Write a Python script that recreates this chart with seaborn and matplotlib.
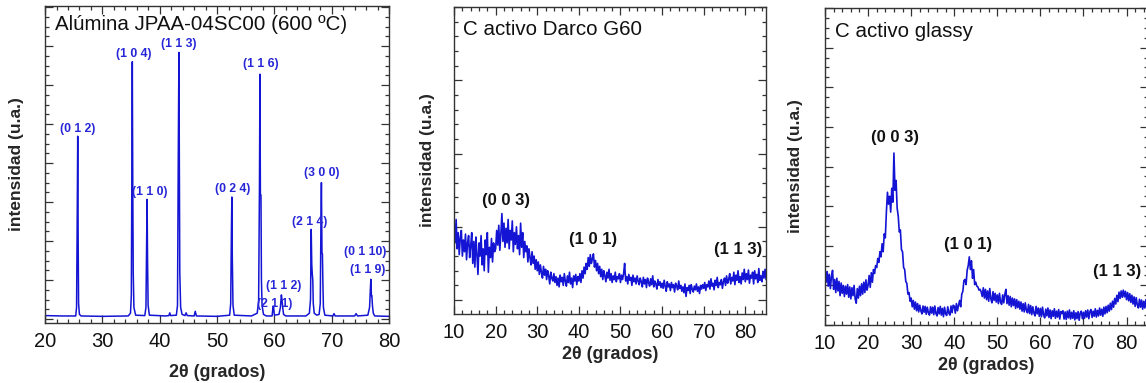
import matplotlib
matplotlib.use("Agg")
import matplotlib.pyplot as plt
from matplotlib.ticker import MultipleLocator, NullFormatter
import numpy as np
import seaborn as sns

# ---------------- data ----------------
# Panel 1: alumina pattern (2theta, intensity a.u.)
alumina_2theta = [20.0, 23.0, 25.35, 25.5, 25.62, 25.7, 25.78, 25.85, 26.0, 26.3,
                  30.0, 34.5, 34.9, 35.05, 35.15, 35.22, 35.3, 35.38, 35.5, 35.8,
                  37.4, 37.6, 37.72, 37.8, 37.88, 37.98, 38.2,
                  41.0, 41.6, 41.75, 41.9,
                  42.9, 43.1, 43.25, 43.35, 43.43, 43.5, 43.65, 43.9,
                  44.4, 44.6, 44.8, 46.0, 46.2, 46.4,
                  50.0, 52.2, 52.38, 52.5, 52.58, 52.66, 52.78, 53.0,
                  56.0, 57.0, 57.25, 57.4, 57.48, 57.56, 57.66, 57.74, 57.85, 58.1, 58.6,
                  59.6, 59.75, 59.85, 60.0, 60.8, 61.05, 61.22, 61.32, 61.45, 61.6, 62.0,
                  65.5, 66.1, 66.3, 66.42, 66.52, 66.6, 66.7, 66.78, 66.95, 67.4,
                  67.8, 68.0, 68.12, 68.2, 68.3, 68.38, 68.46, 68.55, 68.8,
                  70.2, 70.4, 70.6, 74.0, 74.25, 74.5,
                  76.3, 76.6, 76.75, 76.82, 76.92, 77.0, 77.1, 77.25, 77.5, 80.0]
alumina_int = [0.09, 0.08, 0.08, 0.3, 2.8, 4.69, 2.0, 0.4, 0.12, 0.08,
               0.07, 0.08, 0.15, 0.6, 4.0, 6.6, 3.5, 1.2, 0.3, 0.1,
               0.09, 0.3, 2.0, 3.07, 1.5, 0.35, 0.1,
               0.08, 0.09, 0.16, 0.09,
               0.1, 0.35, 4.5, 6.84, 3.8, 1.2, 0.3, 0.12,
               0.09, 0.16, 0.09, 0.08, 0.2, 0.08,
               0.07, 0.1, 0.4, 2.2, 3.13, 1.6, 0.35, 0.1,
               0.08, 0.15, 0.45, 3.5, 6.28, 3.18, 3.18, 1.0, 0.35, 0.12, 0.08,
               0.08, 0.3, 0.33, 0.1, 0.12, 0.3, 0.62, 0.5, 0.3, 0.12, 0.08,
               0.08, 0.15, 0.5, 2.3, 1.4, 1.17, 1.0, 0.4, 0.15, 0.1,
               0.12, 0.4, 2.5, 3.5, 1.7, 1.67, 0.9, 0.3, 0.1,
               0.08, 0.14, 0.08, 0.08, 0.14, 0.08,
               0.1, 0.3, 0.8, 1.02, 0.6, 0.6, 0.35, 0.15, 0.08, 0.07]
alumina_labels = ["(0 1 2)", "(1 0 4)", "(1 1 3)", "(1 1 0)", "(0 2 4)", "(1 1 6)",
                  "(1 1 2)", "(2 1 1)", "(2 1 4)", "(3 0 0)", "(0 1 10)", "(1 1 9)"]
alumina_label_x = [25.7, 35.4, 43.4, 38.3, 52.8, 57.7, 61.6, 60.0, 66.1, 68.3, 75.8, 76.3]
alumina_label_y = [4.87, 6.79, 7.05, 3.27, 3.34, 6.54, 0.85, 0.38, 2.49, 3.74, 1.72, 1.26]

# Panels 2 and 3: 2theta grid from 10 to 85 every 0.25 deg
carbon_2theta = [10 + 0.25 * i for i in range(301)]

darco_int = [
    1.05, 0.78, 1.10, 0.70, 0.92, 0.62, 0.85, 0.95, 0.60, 0.82, 0.66, 0.90, 0.55, 0.78, 0.88, 0.58, 0.74, 0.92, 0.50, 0.80,
    0.45, 0.86, 0.62, 0.35, 0.78, 0.60, 0.88, 0.48, 0.70, 0.40, 0.82, 0.62, 0.92, 0.38, 0.72, 0.58, 0.84, 0.52, 0.78, 0.66,
    0.70, 0.95, 0.75, 1.02, 0.68, 0.90, 1.18, 0.80, 1.05, 0.72, 0.98, 0.78, 1.10, 0.70, 0.95, 0.82, 1.08, 0.66, 0.92, 0.76,
    1.00, 0.70, 0.88, 0.62, 1.05, 0.72, 0.92, 0.58, 0.80, 0.66, 0.74, 0.52, 0.70, 0.58, 0.48, 0.66, 0.50, 0.60, 0.42, 0.55,
    0.40, 0.52, 0.35, 0.48, 0.38, 0.30, 0.46, 0.34, 0.42, 0.28, 0.40, 0.33, 0.22, 0.38, 0.30, 0.26, 0.36, 0.24, 0.32, 0.20,
    0.30, 0.18, 0.34, 0.25, 0.31, 0.20, 0.36, 0.26, 0.19, 0.33, 0.24, 0.38, 0.22, 0.30, 0.17, 0.33, 0.26, 0.35, 0.21, 0.32,
    0.26, 0.36, 0.24, 0.40, 0.30, 0.45, 0.36, 0.50, 0.42, 0.58, 0.46, 0.62, 0.50, 0.56, 0.63, 0.45, 0.54, 0.40, 0.50, 0.36,
    0.46, 0.32, 0.42, 0.28, 0.40, 0.33, 0.25, 0.38, 0.30, 0.42, 0.27, 0.36, 0.24, 0.33, 0.28, 0.38, 0.25, 0.32, 0.29, 0.36,
    0.24, 0.34, 0.28, 0.36, 0.50, 0.26, 0.32, 0.22, 0.35, 0.27, 0.31, 0.20, 0.34, 0.25, 0.30, 0.22, 0.33, 0.26, 0.21, 0.30,
    0.25, 0.18, 0.31, 0.22, 0.28, 0.17, 0.30, 0.24, 0.19, 0.29, 0.21, 0.33, 0.18, 0.26, 0.22, 0.15, 0.28, 0.20, 0.25, 0.17,
    0.23, 0.16, 0.27, 0.19, 0.12, 0.25, 0.18, 0.22, 0.13, 0.24, 0.17, 0.21, 0.11, 0.23, 0.19, 0.14, 0.26, 0.16, 0.20, 0.12,
    0.18, 0.10, 0.22, 0.05, 0.17, 0.13, 0.20, 0.09, 0.21, 0.15, 0.11, 0.19, 0.14, 0.22, 0.12, 0.18, 0.09, 0.20, 0.15, 0.21,
    0.16, 0.24, 0.13, 0.21, 0.18, 0.26, 0.15, 0.29, 0.19, 0.23, 0.14, 0.27, 0.20, 0.31, 0.17, 0.24, 0.21, 0.28, 0.16, 0.25,
    0.30, 0.20, 0.33, 0.23, 0.28, 0.36, 0.22, 0.31, 0.26, 0.38, 0.21, 0.34, 0.27, 0.40, 0.24, 0.32, 0.22, 0.37, 0.28, 0.42,
    0.25, 0.36, 0.28, 0.41, 0.23, 0.34, 0.30, 0.38, 0.22, 0.40, 0.29, 0.35, 0.24, 0.43, 0.27, 0.33, 0.25, 0.39, 0.30, 0.42,
    0.28]

glassy_int = [
    1.45, 1.08, 1.35, 0.98, 1.28, 0.92, 1.22, 1.38, 0.90, 1.15, 0.82, 1.18, 0.86, 1.10, 0.74, 1.06, 0.80, 1.00, 0.72, 0.98,
    0.78, 1.02, 0.70, 0.96, 0.66, 0.94, 0.74, 1.00, 0.66, 0.55, 0.92, 0.68, 0.98, 0.74, 1.04, 0.78, 1.08, 0.82, 1.14, 0.88,
    1.00, 1.25, 0.95, 1.32, 1.08, 1.40, 1.30, 1.50, 1.45, 1.68, 1.58, 1.85, 1.72, 2.05, 1.85, 2.30, 2.20, 2.85, 3.35, 3.05,
    3.25, 2.85, 3.45, 3.10, 4.34, 3.40, 3.65, 2.95, 2.75, 2.35, 2.40, 1.90, 1.85, 1.45, 1.40, 1.10, 1.05, 0.78, 0.82, 0.60,
    0.68, 0.46, 0.62, 0.40, 0.58, 0.36, 0.54, 0.33, 0.50, 0.36, 0.28, 0.48, 0.32, 0.47, 0.27, 0.45, 0.31, 0.25, 0.46, 0.30,
    0.45, 0.26, 0.48, 0.29, 0.23, 0.44, 0.28, 0.47, 0.25, 0.42, 0.21, 0.45, 0.28, 0.24, 0.46, 0.30, 0.25, 0.48, 0.31, 0.50,
    0.48, 0.30, 0.54, 0.36, 0.50, 0.62, 0.46, 0.78, 0.85, 1.12, 1.15, 1.02, 1.38, 1.50, 1.72, 1.40, 1.62, 1.18, 1.40, 1.02,
    1.08, 0.98, 0.96, 0.88, 0.90, 0.84, 0.72, 0.94, 0.68, 0.90, 0.64, 0.86, 0.60, 0.92, 0.66, 0.56, 0.84, 0.62, 0.80, 0.58,
    0.76, 0.54, 0.80, 0.58, 0.52, 0.76, 0.56, 0.78, 0.90, 0.54, 0.74, 0.50, 0.72, 0.46, 0.68, 0.49, 0.66, 0.42, 0.64, 0.44,
    0.60, 0.40, 0.58, 0.35, 0.54, 0.33, 0.56, 0.37, 0.31, 0.52, 0.29, 0.49, 0.26, 0.46, 0.30, 0.23, 0.47, 0.28, 0.43, 0.22,
    0.42, 0.21, 0.45, 0.25, 0.18, 0.40, 0.23, 0.43, 0.19, 0.38, 0.16, 0.36, 0.22, 0.41, 0.17, 0.35, 0.20, 0.39, 0.15, 0.34,
    0.29, 0.36, 0.15, 0.33, 0.14, 0.35, 0.18, 0.38, 0.15, 0.32, 0.17, 0.36, 0.13, 0.31, 0.16, 0.34, 0.12, 0.30, 0.35, 0.16,
    0.32, 0.17, 0.36, 0.20, 0.38, 0.16, 0.34, 0.39, 0.19, 0.35, 0.22, 0.41, 0.20, 0.37, 0.23, 0.43, 0.25, 0.40, 0.22, 0.45,
    0.28, 0.47, 0.31, 0.50, 0.35, 0.55, 0.39, 0.60, 0.45, 0.67, 0.53, 0.75, 0.59, 0.83, 0.67, 0.86, 0.70, 0.88, 0.71, 0.85,
    0.64, 0.82, 0.61, 0.79, 0.57, 0.75, 0.53, 0.71, 0.47, 0.69, 0.51, 0.43, 0.65, 0.45, 0.63, 0.40, 0.60, 0.43, 0.64, 0.41,
    0.55]

carbon_labels = ["(0 0 3)", "(1 0 1)", "(1 1 3)"]
darco_label_x = [22.4, 43.5, 78.2]
darco_label_y = [1.36, 0.82, 0.69]
glassy_label_x = [26.3, 43.3, 77.8]
glassy_label_y = [4.72, 2.02, 1.34]

titles = ["Alúmina JPAA-04SC00 (600 ºC)", "C activo Darco G60", "C activo glassy"]
xlabel = "2θ (grados)"
ylabel = "intensidad (u.a.)"

# ---------------- style ----------------
sns.set_theme(style="ticks")
plt.rcParams["font.family"] = ["Liberation Sans", "DejaVu Sans"]

LINE = "#1414d4"
LABEL_BLUE = "#2626d8"

fig = plt.figure(figsize=(11.46, 3.83), dpi=100)
ax1 = fig.add_axes([0.0393, 0.1567, 0.3002, 0.8277])
ax2 = fig.add_axes([0.3962, 0.1802, 0.2723, 0.8016])
ax3 = fig.add_axes([0.7199, 0.1514, 0.2819, 0.8277])


def style_axis(ax, xmajor, xminor, ymajor, yminor, labelpad_x, labelpad_y):
    ax.xaxis.set_major_locator(MultipleLocator(xmajor))
    ax.xaxis.set_minor_locator(MultipleLocator(xminor))
    ax.yaxis.set_major_locator(MultipleLocator(ymajor))
    ax.yaxis.set_minor_locator(MultipleLocator(yminor))
    ax.yaxis.set_major_formatter(NullFormatter())
    ax.tick_params(which="both", direction="in", top=True, right=True,
                   color="#333333", width=0.9)
    ax.tick_params(which="major", length=5.5)
    ax.tick_params(which="minor", length=3)
    ax.tick_params(axis="x", which="major", labelsize=14.5, pad=6.5, labelcolor="#111111")
    for sp in ax.spines.values():
        sp.set_color("#333333")
        sp.set_linewidth(1.0)
        sp.set_visible(True)
    ax.set_xlabel(xlabel, fontsize=13, fontweight="bold", labelpad=labelpad_x)
    ax.set_ylabel(ylabel, fontsize=12.5, fontweight="bold", labelpad=labelpad_y)


# Panel 1
sns.lineplot(x=alumina_2theta, y=alumina_int, ax=ax1, color=LINE, linewidth=1.1)
ax1.set_xlim(20, 80)
ax1.set_ylim(-0.1, 8.03)
style_axis(ax1, 10, 2, 1, 0.25, 9, 12)
for lab, lx, ly in zip(alumina_labels, alumina_label_x, alumina_label_y):
    ax1.text(lx, ly, lab, color=LABEL_BLUE, fontsize=8.8, fontweight="bold",
             ha="center", va="center")
ax1.text(0.029, 0.94, titles[0], transform=ax1.transAxes, fontsize=14.8,
         ha="left", va="center", color="#111111")

# Panel 2
sns.lineplot(x=carbon_2theta, y=darco_int, ax=ax2, color=LINE, linewidth=1.2)
ax2.set_xlim(10, 85)
ax2.set_ylim(-0.19, 4.0)
style_axis(ax2, 10, 2, 1, 0.2, 3, 10.5)
for lab, lx, ly in zip(carbon_labels, darco_label_x, darco_label_y):
    ax2.text(lx, ly, lab, color="#111111", fontsize=12, fontweight="bold",
             ha="center", va="center")
ax2.text(0.028, 0.928, titles[1], transform=ax2.transAxes, fontsize=14.8,
         ha="left", va="center", color="#111111")

# Panel 3
sns.lineplot(x=carbon_2theta, y=glassy_int, ax=ax3, color=LINE, linewidth=1.2)
ax3.set_xlim(10, 85)
ax3.set_ylim(0, 8.0)
style_axis(ax3, 10, 2, 1, 0.25, 3, 12)
for lab, lx, ly in zip(carbon_labels, glassy_label_x, glassy_label_y):
    ax3.text(lx, ly, lab, color="#111111", fontsize=12, fontweight="bold",
             ha="center", va="center")
ax3.text(0.031, 0.925, titles[2], transform=ax3.transAxes, fontsize=14.8,
         ha="left", va="center", color="#111111")

fig.savefig("out.png", dpi=100)
